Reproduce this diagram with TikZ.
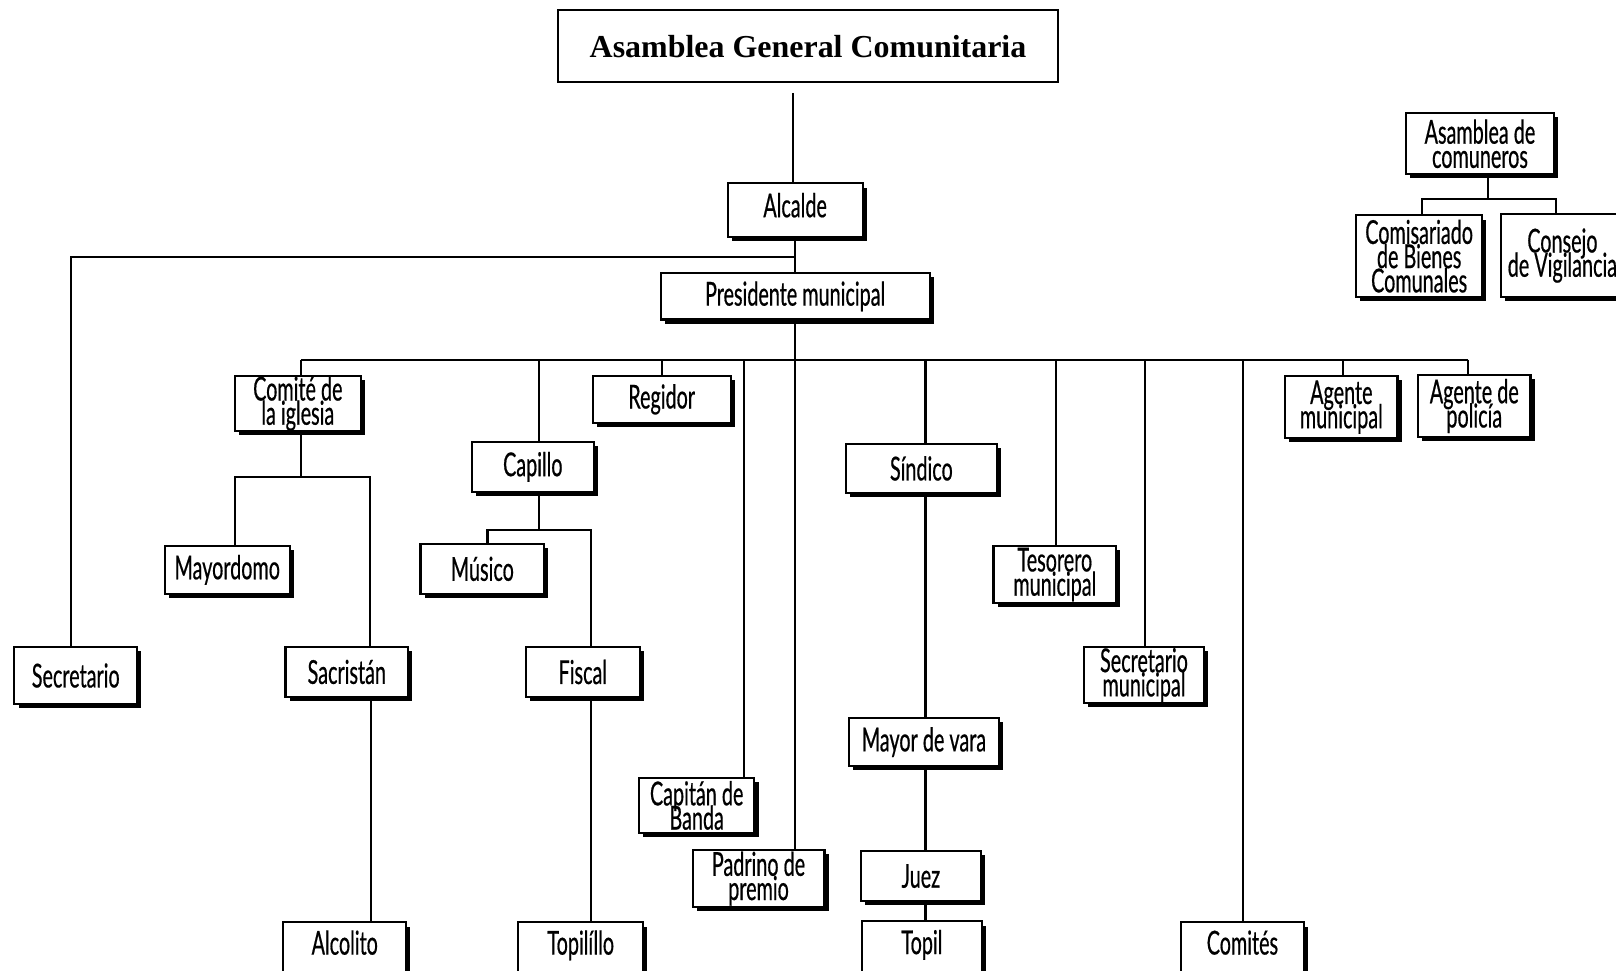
\documentclass[tikz,border=0pt]{standalone}
\usepackage{fontspec}
\setmainfont{Liberation Serif}
\newfontfamily\cargofont[FakeStretch=0.6,FakeBold=0.5]{Lato}
\newcommand\cargotype{\cargofont\fontsize{16pt}{11.75pt}\selectfont\lineskiplimit=-100pt\relax}
\usetikzlibrary{shadows}

% \officebox[options]{name}{x1}{y1}{x2}{y2}{label}: a shadowed box given by its corners
\newcommand\officebox[7][]{%
  \pgfmathsetmacro\obxc{(#3+#5)/2}%
  \pgfmathsetmacro\obyc{(#4+#6)/2}%
  \pgfmathsetmacro\obw{(#5-#3)/2}%
  \pgfmathsetmacro\obh{(#6-#4)/2}%
  \node[cargo, minimum width=\obw pt, minimum height=\obh pt, #1] (#2) at (\obxc,\obyc) {#7};}

\begin{document}
\begin{tikzpicture}[x=0.5pt,y=-0.5pt,
  line width=1pt,
  cargo/.style={draw, line width=1pt, fill=white, inner sep=0pt,
    align=center, font=\cargotype,
    drop shadow={shadow xshift=2pt, shadow yshift=-2pt, fill=black, opacity=1}},
  cut/.style={text depth=9pt},
  raised/.style={text depth=5pt},
  titlebox/.style={draw, line width=1pt, inner sep=0pt,
    minimum width=243pt, minimum height=35pt,
    font=\bfseries\fontsize{15.5pt}{18pt}\selectfont}]

\useasboundingbox (0,0) rectangle (1568,942);
\clip (0,0) rectangle (1568,942);

% main hierarchy
\node[titlebox] (asamblea) at (784,45) {Asamblea General Comunitaria};
\officebox[raised]{alcalde}{706}{178}{837}{230}{Alcalde}
\officebox{presidente}{641}{265}{902}{310}{Presidente municipal}
\officebox{secretario}{14}{628}{133}{683}{Secretario}

% branches under the municipal president
\officebox{comite}{228}{365}{350}{418}{Comité de\\la iglesia}
\officebox{capillo}{458}{429}{576}{477}{Capillo}
\officebox{regidor}{575}{365}{709}{410}{Regidor}
\officebox{capitan}{620}{755}{732}{808}{Capitán de\\Banda}
\officebox{padrino}{672}{825}{800}{880}{Padrino de\\premio}
\officebox{sindico}{821}{431}{967}{478}{Síndico}
\officebox{tesorero}{964}{530}{1083}{585}{Tesorero\\municipal}
\officebox{secmun}{1052}{628}{1168}{682}{Secretario\\municipal}
\officebox[cut]{comites}{1146}{895}{1265}{952}{Comités}
\officebox{agmun}{1247}{365}{1356}{425}{Agente\\municipal}
\officebox{agpol}{1376}{364}{1485}{424}{Agente de\\policía}

% church committee
\officebox{mayordomo}{160}{530}{281}{576}{Mayordomo}
\officebox{sacristan}{277}{628}{396}{676}{Sacristán}
\officebox[cut]{alcolito}{275}{895}{394}{952}{Alcolito}

% chapel
\officebox{musico}{408}{528}{528}{576}{Músico}
\officebox{fiscal}{510}{628}{621}{676}{Fiscal}
\officebox[cut]{topilillo}{503}{895}{624}{952}{Topilíllo}

% trustee line
\officebox{mayorvara}{824}{697}{969}{743}{Mayor de vara}
\officebox{juez}{835}{826}{952}{874}{Juez}
\officebox[cut]{topil}{836}{894}{953}{952}{Topil}

% communal land authorities
\officebox{asamcom}{1364}{110}{1508}{169}{Asamblea de\\comuneros}
\officebox{comisariado}{1316}{209}{1438}{288}{Comisariado\\de Bienes\\Comunales}
\officebox{consejo}{1456}{208}{1576}{288}{Consejo\\de Vigilancia}

% connectors
\draw (769,90) -- (769,0 |- alcalde.north);
\draw (alcalde.south) -- (alcalde.south |- presidente.north);
\coordinate (jsec) at (771,249);
\draw (jsec) -- (69,249) -- (69,0 |- secretario.north);
\draw (presidente.south) -- (presidente.south |- padrino.north);

\coordinate (bar) at (771,349);
\draw (292,349) -- (1424,349);
\foreach \nm/\xx in {comite/292, capillo/523, regidor/642, capitan/722,
    sindico/898, tesorero/1025, secmun/1111, comites/1206, agmun/1303, agpol/1424}
  \draw (\xx,349) -- (\xx,0 |- \nm.north);

\draw (292,0 |- comite.south) -- (292,463);
\draw (228,0 |- mayordomo.north) |- (359,463) -- (359,0 |- sacristan.north);
\draw (360,0 |- sacristan.south) -- (360,0 |- alcolito.north);

\draw (523,0 |- capillo.south) -- (523,514);
\draw (473,0 |- musico.north) |- (573,514) -- (573,0 |- fiscal.north);
\draw (573,0 |- fiscal.south) -- (573,0 |- topilillo.north);

\draw (898,0 |- sindico.south) -- (898,0 |- mayorvara.north);
\draw (898,0 |- mayorvara.south) -- (898,0 |- juez.north);
\draw (898,0 |- juez.south) -- (898,0 |- topil.north);

\draw (1444,0 |- asamcom.south) -- (1444,193);
\draw (1380,0 |- comisariado.north) |- (1510,193) -- (1510,0 |- consejo.north);

\end{tikzpicture}
\end{document}
